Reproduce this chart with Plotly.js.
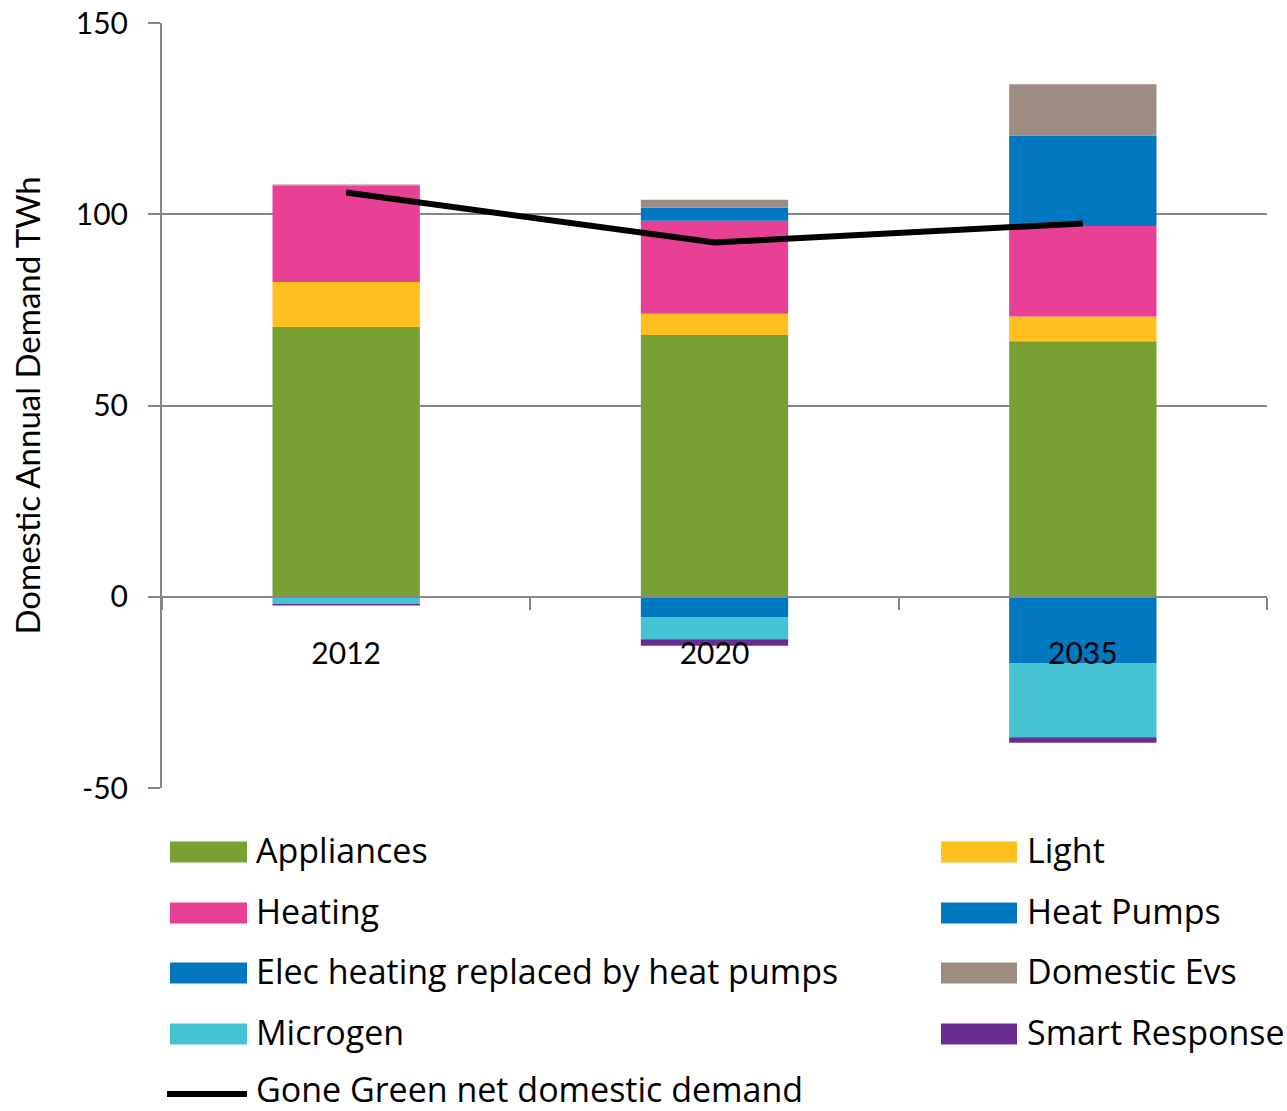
<!DOCTYPE html>
<html>
<head>
<meta charset="utf-8">
<script src="https://cdn.plot.ly/plotly-3.0.1.min.js"></script>
<style>html,body{margin:0;padding:0;background:#fff;}#chart{width:1287px;height:1111px;}</style>
</head>
<body>
<div id="chart"></div>
<script>
// ---- data ----
const years = ["2012", "2020", "2035"];
const appliances = [70.5, 68.4, 66.8];
const light = [11.8, 5.6, 6.5];
const heating = [25.2, 24.3, 23.6];
const heatPumps = [0, 3.4, 23.7];
const elecReplaced = [0, -5.3, -17.3];
const domesticEvs = [0.3, 2.1, 13.4];
const microgen = [-1.9, -5.8, -19.4];
const smartResponse = [-0.4, -1.7, -1.5];
const goneGreen = [105.7, 92.6, 97.6];

const seriesNames = ["Appliances", "Light", "Heating", "Heat Pumps",
  "Elec heating replaced by heat pumps", "Domestic Evs", "Microgen", "Smart Response"];
const lineName = "Gone Green net domestic demand";
const yTicks = [-50, 0, 50, 100, 150];

// ---- styles ----
const colors = ["#78A032", "#FFC020", "#E84094", "#0078C0", "#0078C0", "#9E8C83", "#45C3D3", "#6B2C91"];
const seriesValues = [appliances, light, heating, heatPumps, elecReplaced, domesticEvs, microgen, smartResponse];
const FONT = "Lato, 'Open Sans', sans-serif";
const LEGFONT = "'Open Sans', Lato, sans-serif";
const GRID = "#868686";

const L = 162, R = 20, T = 23, B = 323, WIDTH = 1287, HEIGHT = 1111;
const PW = WIDTH - L - R, PH = HEIGHT - T - B;
const px = x => (x - L) / PW;
const py = y => (HEIGHT - B - y) / PH;

const traces = seriesNames.map((n, i) => ({
  type: "bar", name: n, x: years, y: seriesValues[i],
  marker: {color: colors[i], line: {width: 0}},
  showlegend: false, hoverinfo: "name+y"
}));
traces.push({
  type: "scatter", mode: "lines", name: lineName, x: years, y: goneGreen,
  line: {color: "#000000", width: 6}, showlegend: false
});

// ---- custom legend (2 columns) ----
const shapes = [];
const annotations = [];
const rowY = [852, 913, 973, 1034, 1094];
const textY = [850, 911, 971, 1032, 1089];
const colSw = [[170, 247, 254], [941, 1017, 1025]];
const legendItems = seriesNames.concat([lineName]);
legendItems.forEach((n, i) => {
  const row = Math.floor(i / 2), col = i % 2;
  const yc = rowY[row];
  const [x0, x1, xt] = colSw[col];
  if (i < seriesNames.length) {
    shapes.push({type: "rect", xref: "paper", yref: "paper",
      x0: px(x0), x1: px(x1), y0: py(yc + 10.5), y1: py(yc - 10.5),
      fillcolor: colors[i], line: {width: 0}});
  } else {
    shapes.push({type: "line", xref: "paper", yref: "paper",
      x0: px(x0 - 3), x1: px(x1), y0: py(yc), y1: py(yc),
      line: {color: "#000000", width: 6}});
  }
  annotations.push({xref: "paper", yref: "paper", x: px(xt), y: py(textY[row]),
    xanchor: "left", yanchor: "middle", showarrow: false, text: n,
    font: {family: LEGFONT, size: 34, color: "#000000"}});
});

const layout = {
  width: WIDTH, height: HEIGHT,
  margin: {l: L, r: R, t: T, b: B},
  paper_bgcolor: "#ffffff", plot_bgcolor: "#ffffff",
  barmode: "relative", bargap: 0.6,
  font: {family: FONT, color: "#000000"},
  xaxis: {
    type: "category", anchor: "free", position: 50 / 200,
    showline: true, linecolor: GRID, linewidth: 2,
    ticks: "outside", tickson: "boundaries", ticklen: 12, tickwidth: 2, tickcolor: GRID,
    showgrid: false, zeroline: false,
    tickfont: {family: FONT, size: 30, color: "#000000"},
    ticklabelstandoff: 30, fixedrange: true
  },
  yaxis: {
    range: [-50, 150], tickvals: yTicks, ticktext: yTicks.map(String),
    showline: true, linecolor: GRID, linewidth: 2,
    ticks: "outside", ticklen: 12, tickwidth: 2, tickcolor: GRID,
    showgrid: true, gridcolor: GRID, gridwidth: 2,
    zeroline: true, zerolinecolor: GRID, zerolinewidth: 2,
    tickfont: {family: FONT, size: 30, color: "#000000"},
    ticklabelstandoff: 14,
    title: {text: "Domestic Annual Demand TWh", font: {family: FONT, size: 33, color: "#000000"}, standoff: 25},
    fixedrange: true
  },
  shapes: shapes,
  annotations: annotations
};

Plotly.newPlot("chart", traces, layout, {displayModeBar: false, staticPlot: true});
</script>
</body>
</html>
